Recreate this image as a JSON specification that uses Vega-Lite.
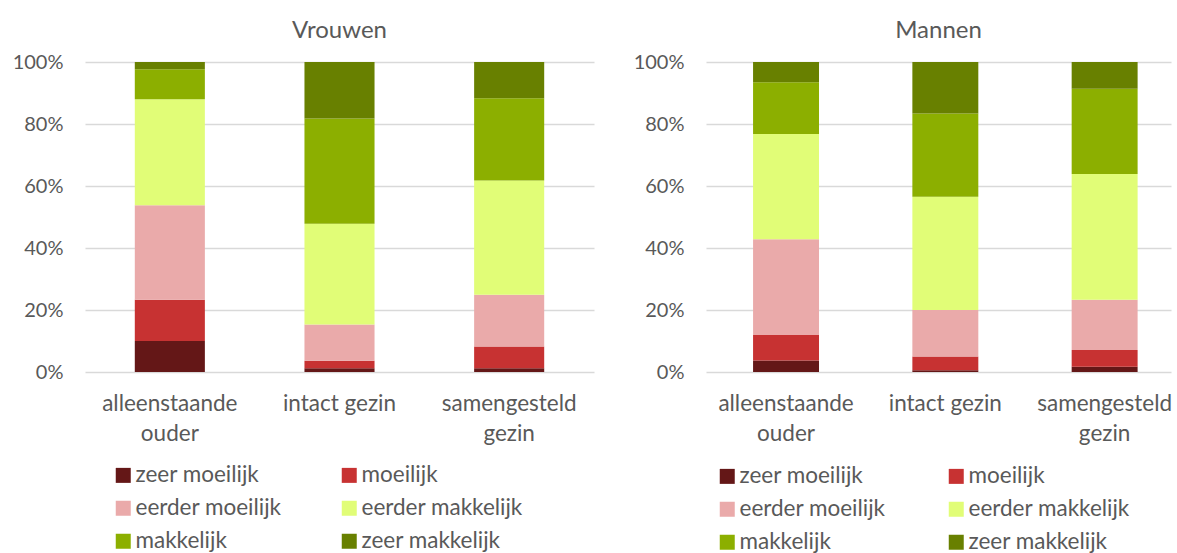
{
  "$schema": "https://vega.github.io/schema/vega-lite/v6.json",
  "padding": {"left": 12, "top": 19, "right": 0, "bottom": 0},
  "background": "white",
  "datasets": {
    "d": [
      {"g": "Vrouwen", "cat": "alleenstaande ouder", "resp": "zeer moeilijk", "k": 1, "v": 10.0},
      {"g": "Vrouwen", "cat": "alleenstaande ouder", "resp": "moeilijk", "k": 2, "v": 13.3},
      {"g": "Vrouwen", "cat": "alleenstaande ouder", "resp": "eerder moeilijk", "k": 3, "v": 30.5},
      {"g": "Vrouwen", "cat": "alleenstaande ouder", "resp": "eerder makkelijk", "k": 4, "v": 34.2},
      {"g": "Vrouwen", "cat": "alleenstaande ouder", "resp": "makkelijk", "k": 5, "v": 9.7},
      {"g": "Vrouwen", "cat": "alleenstaande ouder", "resp": "zeer makkelijk", "k": 6, "v": 2.3},
      {"g": "Vrouwen", "cat": "intact gezin", "resp": "zeer moeilijk", "k": 1, "v": 1.2},
      {"g": "Vrouwen", "cat": "intact gezin", "resp": "moeilijk", "k": 2, "v": 2.4},
      {"g": "Vrouwen", "cat": "intact gezin", "resp": "eerder moeilijk", "k": 3, "v": 11.7},
      {"g": "Vrouwen", "cat": "intact gezin", "resp": "eerder makkelijk", "k": 4, "v": 32.5},
      {"g": "Vrouwen", "cat": "intact gezin", "resp": "makkelijk", "k": 5, "v": 34.0},
      {"g": "Vrouwen", "cat": "intact gezin", "resp": "zeer makkelijk", "k": 6, "v": 18.2},
      {"g": "Vrouwen", "cat": "samengesteld gezin", "resp": "zeer moeilijk", "k": 1, "v": 1.2},
      {"g": "Vrouwen", "cat": "samengesteld gezin", "resp": "moeilijk", "k": 2, "v": 7.0},
      {"g": "Vrouwen", "cat": "samengesteld gezin", "resp": "eerder moeilijk", "k": 3, "v": 16.7},
      {"g": "Vrouwen", "cat": "samengesteld gezin", "resp": "eerder makkelijk", "k": 4, "v": 36.9},
      {"g": "Vrouwen", "cat": "samengesteld gezin", "resp": "makkelijk", "k": 5, "v": 26.5},
      {"g": "Vrouwen", "cat": "samengesteld gezin", "resp": "zeer makkelijk", "k": 6, "v": 11.7},
      {"g": "Mannen", "cat": "alleenstaande ouder", "resp": "zeer moeilijk", "k": 1, "v": 3.7},
      {"g": "Mannen", "cat": "alleenstaande ouder", "resp": "moeilijk", "k": 2, "v": 8.2},
      {"g": "Mannen", "cat": "alleenstaande ouder", "resp": "eerder moeilijk", "k": 3, "v": 30.9},
      {"g": "Mannen", "cat": "alleenstaande ouder", "resp": "eerder makkelijk", "k": 4, "v": 34.0},
      {"g": "Mannen", "cat": "alleenstaande ouder", "resp": "makkelijk", "k": 5, "v": 16.7},
      {"g": "Mannen", "cat": "alleenstaande ouder", "resp": "zeer makkelijk", "k": 6, "v": 6.5},
      {"g": "Mannen", "cat": "intact gezin", "resp": "zeer moeilijk", "k": 1, "v": 0.6},
      {"g": "Mannen", "cat": "intact gezin", "resp": "moeilijk", "k": 2, "v": 4.4},
      {"g": "Mannen", "cat": "intact gezin", "resp": "eerder moeilijk", "k": 3, "v": 15.0},
      {"g": "Mannen", "cat": "intact gezin", "resp": "eerder makkelijk", "k": 4, "v": 36.5},
      {"g": "Mannen", "cat": "intact gezin", "resp": "makkelijk", "k": 5, "v": 26.9},
      {"g": "Mannen", "cat": "intact gezin", "resp": "zeer makkelijk", "k": 6, "v": 16.6},
      {"g": "Mannen", "cat": "samengesteld gezin", "resp": "zeer moeilijk", "k": 1, "v": 1.7},
      {"g": "Mannen", "cat": "samengesteld gezin", "resp": "moeilijk", "k": 2, "v": 5.4},
      {"g": "Mannen", "cat": "samengesteld gezin", "resp": "eerder moeilijk", "k": 3, "v": 16.2},
      {"g": "Mannen", "cat": "samengesteld gezin", "resp": "eerder makkelijk", "k": 4, "v": 40.6},
      {"g": "Mannen", "cat": "samengesteld gezin", "resp": "makkelijk", "k": 5, "v": 27.5},
      {"g": "Mannen", "cat": "samengesteld gezin", "resp": "zeer makkelijk", "k": 6, "v": 8.6}
    ]
  },
  "data": {"name": "d"},
  "spacing": 39,
  "resolve": {"scale": {"color": "independent", "x": "independent", "y": "independent"}, "legend": {"color": "independent"}},
  "hconcat": [
    {
      "title": {"text": "Vrouwen", "offset": 9},
      "width": 509,
      "height": 310,
      "transform": [{"filter": "datum.g == 'Vrouwen'"}],
      "mark": {"type": "bar"},
      "encoding": {
        "x": {"field": "cat", "type": "nominal", "sort": ["alleenstaande ouder", "intact gezin", "samengesteld gezin"],
              "scale": {"paddingInner": 0.587, "paddingOuter": 0.2935},
              "axis": {"title": null, "labelAngle": 0, "domain": false, "ticks": false, "labelPadding": 20.5, "labelLineHeight": 29.5, "labelFontSize": 22.5,
                       "labelExpr": "datum.label == 'alleenstaande ouder' ? ['alleenstaande','ouder'] : datum.label == 'samengesteld gezin' ? ['samengesteld','gezin'] : datum.label"}},
        "y": {"field": "v", "type": "quantitative", "stack": "zero", "scale": {"domain": [0, 100], "nice": false},
              "axis": {"title": null, "values": [0, 20, 40, 60, 80, 100], "labelExpr": "datum.value + '%'", "domain": false, "ticks": false, "labelPadding": 22}},
        "color": {"field": "resp", "type": "nominal",
                  "scale": {"domain": ["zeer moeilijk", "moeilijk", "eerder moeilijk", "eerder makkelijk", "makkelijk", "zeer makkelijk"],
                            "range": ["#641717", "#C73232", "#EAAAAA", "#E1FD77", "#8CAF00", "#688000"]},
                  "legend": {"orient": "none", "legendX": 27, "legendY": 402, "columns": 2, "direction": "horizontal", "title": null, "symbolType": "square", "symbolSize": 225,
                             "symbolStrokeWidth": 0, "labelFontSize": 22.5, "labelColor": "#595959", "labelOffset": 1, "labelLimit": 400, "rowPadding": 10, "columnPadding": 56, "padding": 0}},
        "order": {"field": "k", "type": "quantitative"}
      }
    },
    {
      "title": {"text": "Mannen", "offset": 9},
      "width": 465,
      "height": 310,
      "transform": [{"filter": "datum.g == 'Mannen'"}],
      "mark": {"type": "bar"},
      "encoding": {
        "x": {"field": "cat", "type": "nominal", "sort": ["alleenstaande ouder", "intact gezin", "samengesteld gezin"],
              "scale": {"paddingInner": 0.586, "paddingOuter": 0.2525, "align": 0.585},
              "axis": {"title": null, "labelAngle": 0, "domain": false, "ticks": false, "labelPadding": 20.5, "labelLineHeight": 29.5, "labelFontSize": 22.5,
                       "labelExpr": "datum.label == 'alleenstaande ouder' ? ['alleenstaande','ouder'] : datum.label == 'samengesteld gezin' ? ['samengesteld','gezin'] : datum.label"}},
        "y": {"field": "v", "type": "quantitative", "stack": "zero", "scale": {"domain": [0, 100], "nice": false},
              "axis": {"title": null, "values": [0, 20, 40, 60, 80, 100], "labelExpr": "datum.value + '%'", "domain": false, "ticks": false, "labelPadding": 22}},
        "color": {"field": "resp", "type": "nominal",
                  "scale": {"domain": ["zeer moeilijk", "moeilijk", "eerder moeilijk", "eerder makkelijk", "makkelijk", "zeer makkelijk"],
                            "range": ["#641717", "#C73232", "#EAAAAA", "#E1FD77", "#8CAF00", "#688000"]},
                  "legend": {"orient": "none", "legendX": 10, "legendY": 403, "columns": 2, "direction": "horizontal", "title": null, "symbolType": "square", "symbolSize": 225,
                             "symbolStrokeWidth": 0, "labelFontSize": 22.5, "labelColor": "#595959", "labelOffset": 1, "labelLimit": 400, "rowPadding": 10, "columnPadding": 59, "padding": 0}},
        "order": {"field": "k", "type": "quantitative"}
      }
    }
  ],
  "config": {
    "font": "Lato",
    "view": {"stroke": null},
    "title": {"fontSize": 24, "fontWeight": "normal", "color": "#595959", "font": "Lato"},
    "axis": {"labelFont": "Lato", "labelFontSize": 20, "labelColor": "#595959", "gridColor": "#D9D9D9", "gridWidth": 1.5},
    "legend": {"labelFont": "Lato"}
  }
}
